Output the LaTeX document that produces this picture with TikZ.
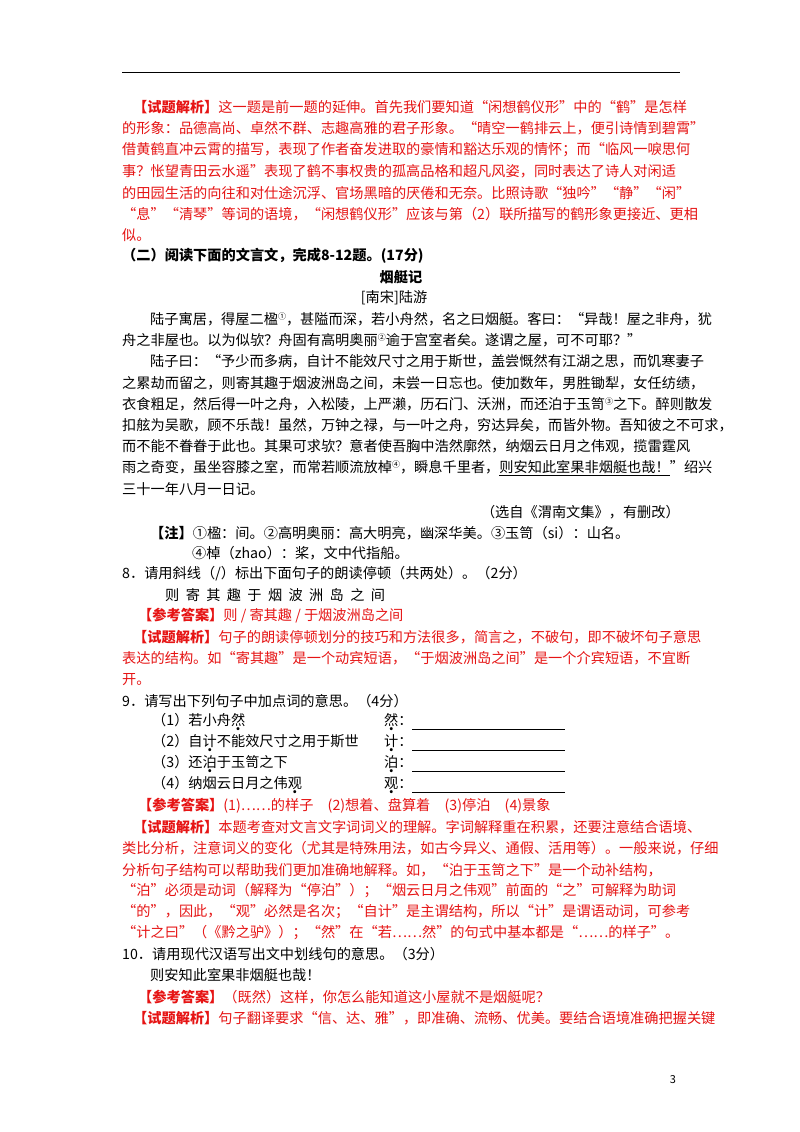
\documentclass[tikz,border=0pt]{standalone}
\usepackage{fontspec}
\setmainfont{Noto Sans CJK SC}
\XeTeXlinebreaklocale "zh"
\XeTeXlinebreakskip=0pt plus 3pt
\definecolor{ansred}{RGB}{230,20,20}
\newcommand\hd[1]{\textbf{#1}}
\newcommand\J[2]{\makebox[#1pt][s]{#2}}
\newcommand\fn[1]{\raisebox{5pt}{\fontsize{8}{8}\selectfont #1}}
\newcommand\dotc[1]{{\setbox0\hbox{#1}\rlap{\hbox to\wd0{\hss\raisebox{-5pt}{\textbf{.}}\hss}}\box0}}
\tikzset{ln/.style={anchor=west,inner sep=0pt,font=\fontsize{14.2}{17}\selectfont},
  rd/.style={ln,text=ansred},bk/.style={ln,text=black}}
\begin{document}
\begin{tikzpicture}[x=1pt,y=-1pt]
\useasboundingbox (0,0) rectangle (800,1132);
\fill[white] (0,0) rectangle (800,1132);
\draw[line width=0.8pt] (122,72) coordinate (r1) -- (680,72) coordinate (r2);
% analysis 1
\node[rd] (a1) at (133,107) {\J{547}{\hd{【试题解析】}这一题是前一题的延伸。首先我们要知道“闲想鹤仪形”中的“鹤”是怎样}};
\node[rd] (a2) at (122,128) {\J{558}{的形象：品德高尚、卓然不群、志趣高雅的君子形象。“晴空一鹤排云上，便引诗情到碧霄”}};
\node[rd] (a3) at (122,150) {\J{558}{借黄鹤直冲云霄的描写，表现了作者奋发进取的豪情和豁达乐观的情怀；而“临风一唳思何}};
\node[rd] (a4) at (122,171) {\J{558}{事？怅望青田云水遥”表现了鹤不事权贵的孤高品格和超凡风姿，同时表达了诗人对闲适}};
\node[rd] (a5) at (122,193) {\J{558}{的田园生活的向往和对仕途沉浮、官场黑暗的厌倦和无奈。比照诗歌“独吟”“静”“闲”}};
\node[rd] (a6) at (122,214) {\J{558}{“息”“清琴”等词的语境，“闲想鹤仪形”应该与第（2）联所描写的鹤形象更接近、更相}};
\node[rd] (a7) at (122,235) {似。};
% text
\node[bk] (s1) at (122,256) {\hd{（二）阅读下面的文言文，完成8-12题。(17分)}};
\node[bk,anchor=center] (t1) at (401,277) {\hd{烟艇记}};
\node[bk,anchor=center] (t2) at (394,298) {[南宋]陆游};
\node[bk] (p1) at (150,319) {\J{530}{陆子寓居，得屋二楹\fn{①}，甚隘而深，若小舟然，名之曰烟艇。客曰：“异哉！屋之非舟，犹}};
\node[bk] (p2) at (122,340) {舟之非屋也。以为似欤？舟固有高明奥丽\fn{②}逾于宫室者矣。遂谓之屋，可不可耶？”};
\node[bk] (p3) at (150,361) {\J{530}{陆子曰：“予少而多病，自计不能效尺寸之用于斯世，盖尝慨然有江湖之思，而饥寒妻子}};
\node[bk] (p4) at (122,383) {\J{558}{之累劫而留之，则寄其趣于烟波洲岛之间，未尝一日忘也。使加数年，男胜锄犁，女任纺绩，}};
\node[bk] (p5) at (122,404) {\J{558}{衣食粗足，然后得一叶之舟，入松陵，上严濑，历石门、沃洲，而还泊于玉笥\fn{③}之下。醉则散发}};
\node[bk] (p6) at (122,425) {\J{558}{扣舷为吴歌，顾不乐哉！虽然，万钟之禄，与一叶之舟，穷达异矣，而皆外物。吾知彼之不可求，}};
\node[bk] (p7) at (122,446) {\J{558}{而不能不眷眷于此也。其果可求欤？意者使吾胸中浩然廓然，纳烟云日月之伟观，揽雷霆风}};
\node[bk] (p8) at (122,468) {\J{558}{雨之奇变，虽坐容膝之室，而常若顺流放棹\fn{④}，瞬息千里者，\underline{则安知此室果非烟艇也哉！}”绍兴}};
\node[bk] (p9) at (122,489) {三十一年八月一日记。};
\node[bk,anchor=east] (src) at (680,512) {（选自《渭南文集》，有删改）};
\node[bk] (n1) at (150,533) {\hd{【注】}①楹：间。②高明奥丽：高大明亮，幽深华美。③玉笥（si）：山名。};
\node[bk] (n2) at (192,553) {④棹（zhao）：桨，文中代指船。};
% Q8
\node[bk] (q8) at (122,574) {8．请用斜线（/）标出下面句子的朗读停顿（共两处）。（2分）};
\node[bk] (q8s) at (165,595) {则\ \ 寄\ \ 其\ \ 趣\ \ 于\ \ 烟\ \ 波\ \ 洲\ \ 岛\ \ 之\ \ 间};
\node[rd] (k8) at (138,616) {\hd{【参考答案】}则 / 寄其趣 / 于烟波洲岛之间};
\node[rd] (e8a) at (133,637) {\J{547}{\hd{【试题解析】}句子的朗读停顿划分的技巧和方法很多，简言之，不破句，即不破坏句子意思}};
\node[rd] (e8b) at (122,658) {\J{558}{表达的结构。如“寄其趣”是一个动宾短语，“于烟波洲岛之间”是一个介宾短语，不宜断}};
\node[rd] (e8c) at (122,680) {开。};
% Q9
\node[bk] (q9) at (122,701) {9．请写出下列句子中加点词的意思。（4分）};
\node[bk] (q91) at (152,722) {（1）若小舟\dotc{然}};
\node[bk] (q92) at (152,743) {（2）自\dotc{计}不能效尺寸之用于斯世};
\node[bk] (q93) at (152,764) {（3）还\dotc{泊}于玉笥之下};
\node[bk] (q94) at (152,785) {（4）纳烟云日月之伟\dotc{观}};
\node[bk] (w1) at (384,722) {\dotc{然}：};
\node[bk] (w2) at (384,743) {\dotc{计}：};
\node[bk] (w3) at (384,764) {\dotc{泊}：};
\node[bk] (w4) at (384,785) {\dotc{观}：};
\foreach \i/\y in {1/729,2/750,3/771,4/792}{
  \draw[line width=0.6pt] (412,\y) -- (565,\y);}
\node[rd] (k9) at (138,806) {\hd{【参考答案】}(1)……的样子\quad (2)想着、盘算着\quad (3)停泊\quad (4)景象};
\node[rd] (e9a) at (133,827) {\J{547}{\hd{【试题解析】}本题考查对文言文字词词义的理解。字词解释重在积累，还要注意结合语境、}};
\node[rd] (e9b) at (122,848) {\J{558}{类比分析，注意词义的变化（尤其是特殊用法，如古今异义、通假、活用等）。一般来说，仔细}};
\node[rd] (e9c) at (122,870) {\J{548}{分析句子结构可以帮助我们更加准确地解释。如，“泊于玉笥之下”是一个动补结构，}};
\node[rd] (e9d) at (122,891) {\J{558}{“泊”必须是动词（解释为“停泊”）；“烟云日月之伟观”前面的“之”可解释为助词}};
\node[rd] (e9e) at (122,912) {\J{558}{“的”，因此，“观”必然是名次；“自计”是主谓结构，所以“计”是谓语动词，可参考}};
\node[rd] (e9f) at (122,933) {\J{545}{“计之曰”（《黔之驴》）；“然”在“若……然”的句式中基本都是“……的样子”。}};
% Q10
\node[bk] (q10) at (122,954) {10．请用现代汉语写出文中划线句的意思。（3分）};
\node[bk] (q10s) at (150,975) {则安知此室果非烟艇也哉！};
\node[rd] (k10) at (138,997) {\hd{【参考答案】}（既然）这样，你怎么能知道这小屋就不是烟艇呢？};
\node[rd] (e10) at (133,1018) {\J{547}{\hd{【试题解析】}句子翻译要求“信、达、雅”，即准确、流畅、优美。要结合语境准确把握关键}};
\node[bk,anchor=center,font=\fontsize{11}{11}\selectfont] (pg) at (673,1080) {3};
\end{tikzpicture}
\end{document}
